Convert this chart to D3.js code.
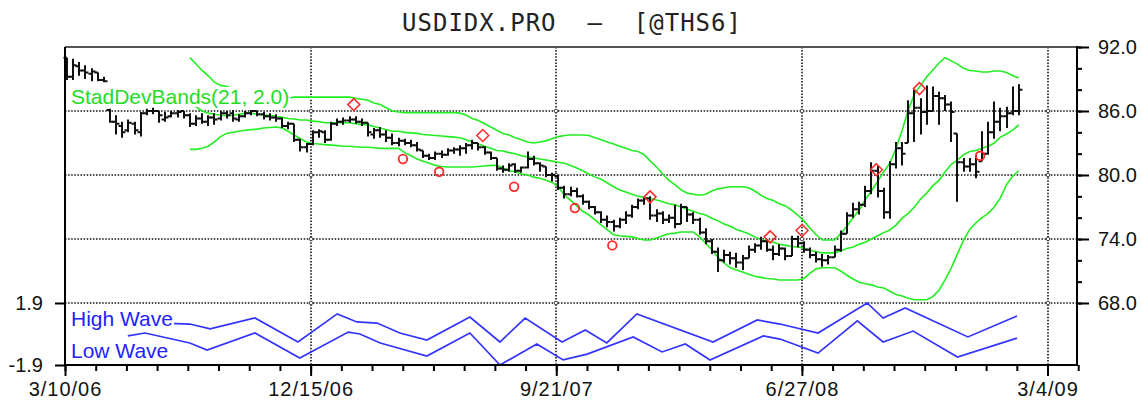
<!DOCTYPE html>
<html><head><meta charset="utf-8">
<script src="https://cdn.jsdelivr.net/npm/d3@7"></script>
<style>body{margin:0;background:#fff}svg{display:block}</style>
</head><body>
<svg id="c" width="1141" height="400"></svg>
<script>
// ---------------- data ----------------
const titleText = "USDIDX.PRO  \u2013  [@THS6]";
const dateLabels = ["3/10/06", "12/15/06", "9/21/07", "6/27/08", "3/4/09"];
const dateLabelIdx = [0, 40, 80, 120, 160];
const priceTicks = [92, 86, 80, 74, 68];
const waveTicks = [1.9, -1.9];
const bandLabel = "StadDevBands(21, 2.0)";
const highWaveLabel = "High Wave";
const lowWaveLabel = "Low Wave";

const open = [91.0,89.2,90.2,89.8,89.5,89.6,88.9,86.1,85.0,84.6,84.2,84.8,84.0,85.8,86.0,86.0,85.2,85.5,85.8,86.0,
85.6,84.8,85.3,85.0,85.4,85.3,85.8,85.8,85.2,85.5,85.8,86.0,85.7,85.5,85.4,85.3,84.6,84.8,83.3,82.6,
82.9,84.0,84.0,83.3,84.8,85.0,85.1,85.2,85.0,84.9,83.8,84.2,83.8,83.5,83.0,83.2,83.0,82.8,82.3,81.8,
81.6,82.0,81.9,82.3,82.4,82.5,82.8,83.0,82.6,82.1,81.6,80.6,80.5,81.0,80.4,80.7,81.5,81.1,80.8,80.0,
79.9,78.8,78.2,78.5,78.0,77.5,77.0,76.5,75.8,75.6,75.2,75.8,76.2,77.0,77.6,77.8,76.2,76.4,75.8,76.0,
75.4,77.0,76.3,75.8,74.6,73.8,72.8,72.0,72.5,72.2,71.8,72.2,73.0,73.4,73.8,73.0,72.6,73.1,72.4,74.0,
73.6,73.0,72.5,72.1,72.0,72.3,73.0,74.5,76.2,76.8,77.2,78.5,80.4,78.5,76.5,81.0,82.5,83.0,85.8,86.3,
85.9,86.0,87.4,87.2,86.6,83.9,81.2,80.8,81.0,81.3,82.0,84.0,85.0,85.5,85.8,86.0];
const high = [91.0,90.9,90.6,90.3,90.0,89.6,89.2,86.2,85.6,85.0,85.2,85.0,85.9,86.2,86.3,86.0,85.9,86.0,86.1,86.0,
85.8,85.6,85.8,85.6,85.8,86.0,86.0,86.1,85.7,86.0,86.1,86.0,85.9,85.8,85.7,85.4,85.0,84.8,83.4,83.0,
84.2,84.3,84.2,85.0,85.3,85.4,85.5,85.5,85.3,84.9,84.4,84.5,84.2,83.9,83.5,83.4,83.3,83.1,82.3,82.0,
82.2,82.3,82.5,82.6,82.8,83.0,83.3,83.0,82.7,82.2,81.6,80.9,81.1,81.1,80.8,82.2,81.8,81.2,80.8,80.2,
80.0,79.0,78.9,78.8,78.2,77.6,77.1,76.6,76.2,75.8,76.0,76.6,77.2,77.8,77.9,78.0,76.8,76.6,76.3,77.2,
77.3,77.0,76.5,76.0,75.0,74.0,73.2,73.0,72.8,72.7,72.5,73.4,73.6,74.2,74.0,73.4,73.5,73.2,74.3,74.3,
73.8,73.2,72.8,72.6,72.5,73.4,74.8,76.5,77.4,77.5,79.0,81.2,80.9,78.8,81.3,83.1,83.1,87.0,88.0,87.2,
88.4,88.3,87.8,87.5,86.9,83.9,81.6,81.6,81.9,84.1,85.0,86.9,86.3,86.4,88.3,88.5];
const low = [88.9,88.9,89.3,89.0,88.8,88.8,88.7,84.9,83.8,83.5,84.0,83.8,83.6,85.6,85.7,84.9,85.0,85.4,85.4,85.3,
84.5,84.6,84.8,84.6,84.7,85.1,85.3,85.0,85.0,85.4,85.6,85.5,85.2,85.1,85.0,84.4,84.3,83.1,82.2,82.1,
82.8,83.5,83.0,83.2,84.6,84.7,84.9,84.8,84.6,83.6,83.4,83.5,83.1,82.8,82.7,82.8,82.6,82.2,81.6,81.4,
81.4,81.6,81.8,82.0,81.8,82.0,82.4,82.3,81.9,81.4,80.4,80.2,80.3,80.2,80.2,80.6,80.9,80.3,79.8,79.4,
78.6,77.8,78.0,77.9,77.2,76.8,76.3,75.5,75.1,74.7,75.0,75.4,76.0,76.8,77.2,75.8,75.6,75.4,75.5,75.0,
75.4,75.6,75.4,74.4,73.5,72.6,70.9,71.8,71.6,71.3,71.1,72.2,72.7,73.0,72.8,72.0,72.4,72.0,72.4,73.2,
72.7,72.2,71.8,71.4,71.6,72.3,72.8,74.5,76.0,76.3,77.0,78.2,77.9,75.9,75.9,80.6,80.9,83.0,83.1,83.8,
84.7,86.0,84.7,86.0,83.1,77.5,80.3,80.3,79.7,81.3,81.9,83.4,84.1,84.4,85.6,85.6];
const close = [89.2,90.3,89.8,89.6,89.7,88.9,88.8,85.0,84.8,84.0,84.9,84.2,85.8,86.0,86.0,85.6,85.4,85.8,85.9,85.6,
84.8,85.3,85.0,85.4,85.2,85.8,85.6,85.3,85.5,85.8,86.0,85.7,85.5,85.4,85.3,84.6,84.8,83.3,82.6,82.9,
84.0,84.1,83.3,84.8,85.0,85.1,85.2,85.0,84.9,84.0,84.2,83.8,83.5,83.0,83.2,83.0,82.8,82.4,81.8,81.6,
82.0,81.9,82.3,82.4,82.5,82.8,83.0,82.6,82.1,81.6,80.6,80.5,80.9,80.4,80.7,81.5,81.1,80.9,80.0,80.0,
78.8,78.2,78.5,78.0,77.5,77.0,76.5,75.8,75.6,75.2,75.8,76.2,77.0,77.6,77.8,76.2,76.4,75.8,76.0,75.4,
77.0,76.3,75.8,74.6,73.8,72.8,72.0,72.5,72.2,71.8,72.2,73.0,73.4,73.8,73.0,72.6,73.1,72.4,74.0,73.6,
73.0,72.5,72.1,72.0,72.3,73.0,74.5,76.2,76.8,77.2,78.5,80.4,78.5,76.5,81.0,82.5,82.0,85.8,86.3,85.9,
86.0,87.4,87.2,86.6,85.9,81.2,80.8,81.0,80.3,82.0,84.0,85.0,85.5,85.8,86.0,88.0];

// StdDev bands, first value belongs to bar 20
const bandStart = 20;
const bandUpper = [91.0,90.4,89.8,89.3,88.7,88.4,88.3,88.1,88.0,87.9,
87.8,87.7,87.6,87.5,87.4,87.3,87.2,87.3,87.3,87.3,
87.3,87.3,87.3,87.3,87.3,87.3,87.3,87.2,87.1,87.0,
86.75,86.6,86.3,86.0,85.9,85.85,85.85,85.85,85.85,85.85,
85.85,85.85,85.85,85.85,85.8,85.6,85.3,85.1,84.8,84.5,
84.2,83.9,83.75,83.5,83.3,83.1,83.0,83.1,83.2,83.4,
83.6,83.7,83.75,83.75,83.75,83.7,83.5,83.3,83.1,82.9,
82.7,82.5,82.3,82.2,81.9,81.3,80.75,80.1,79.5,79.1,
78.6,78.3,78.2,78.1,78.2,78.5,78.7,78.8,78.9,78.9,
78.9,78.8,78.5,78.1,77.8,77.6,77.3,77.1,76.7,76.25,
75.7,75.0,74.4,73.9,73.9,73.9,74.5,75.2,76.0,76.7,
77.7,78.5,79.4,80.3,81.1,82.5,84.2,86.1,87.6,88.4,
89.2,89.85,90.5,91.0,90.7,90.4,90.0,89.8,89.75,89.65,
89.65,89.75,89.75,89.6,89.3,89.1];
const bandMiddle = [86.65,86.4,86.0,85.8,85.7,85.6,85.55,85.6,85.7,85.8,
85.8,85.7,85.6,85.6,85.5,85.4,85.3,85.25,85.15,85.15,
85.05,85.0,84.9,84.9,84.9,84.9,84.9,84.8,84.75,84.7,
84.55,84.4,84.25,84.1,84.1,84.0,83.95,83.9,83.8,83.75,
83.7,83.65,83.6,83.55,83.5,83.3,83.1,82.9,82.7,82.5,
82.3,82.25,82.1,82.0,81.8,81.7,81.6,81.5,81.4,81.3,
81.2,81.1,80.9,80.65,80.4,80.1,79.8,79.6,79.25,78.9,
78.6,78.4,78.2,78.0,77.9,77.8,77.65,77.5,77.3,77.2,
77.0,76.8,76.6,76.4,76.25,75.95,75.7,75.4,75.2,74.9,
74.7,74.5,74.2,73.95,73.8,73.7,73.5,73.4,73.3,73.25,
73.15,72.95,72.8,72.7,72.7,72.7,72.9,73.1,73.25,73.5,
73.7,74.0,74.3,74.6,74.85,75.3,75.95,76.4,77.0,77.75,
78.3,79.0,79.5,80.3,81.0,81.4,81.9,82.2,82.3,82.5,
82.7,83.0,83.55,83.85,84.2,84.7];
const bandLower = [82.4,82.4,82.5,82.7,83.1,83.6,83.9,84.0,84.1,84.2,
84.25,84.3,84.4,84.45,84.5,84.4,84.1,83.75,83.4,83.1,
82.95,82.9,82.85,82.8,82.75,82.7,82.7,82.65,82.6,82.6,
82.55,82.5,82.5,82.5,82.5,82.1,81.8,81.5,81.3,81.1,
80.9,80.8,80.75,80.75,80.75,80.75,80.75,80.8,80.85,80.9,
80.9,80.65,80.4,80.3,80.1,80.0,79.8,79.7,79.5,79.3,
78.9,78.1,77.65,77.1,76.6,76.25,75.8,75.3,74.85,74.4,
74.3,74.25,74.2,74.05,73.9,73.9,74.1,74.3,74.5,74.55,
74.65,74.65,74.65,74.2,73.6,73.0,72.3,71.75,71.3,71.1,
70.9,70.7,70.5,70.4,70.3,70.25,70.15,70.15,70.15,70.15,
70.3,70.8,71.2,71.3,71.3,71.3,71.0,70.6,70.25,69.95,
69.8,69.7,69.5,69.4,69.1,68.8,68.65,68.45,68.3,68.3,
68.3,68.6,69.2,70.2,71.3,72.6,73.9,74.9,75.5,76.0,
76.4,77.0,77.85,79.1,79.9,80.4];

// signal markers (bar position, price)
const diamondIdx = [46.7, 67.7, 94.95, 114.5, 119.7, 131.8, 138.8];
const diamondVal = [86.6, 83.7, 77.95, 74.2, 74.8, 80.5, 88.1];
const circleIdx = [54.7, 60.6, 72.8, 82.7, 88.8, 148.7];
const circleVal = [81.5, 80.3, 78.9, 76.9, 73.4, 81.8];

// wave pivots (bar position, value)
const highWaveIdx = [10, 20, 23.3, 30.6, 37.6, 44, 47.2, 50.5, 54.2, 58.6, 65.6, 70.5, 74.6, 80.6, 84.4, 87.9, 92.8, 105.2, 112.4, 116.1, 122.3, 130.3, 132.9, 136.5, 146.7, 154.7];
const highWaveVal = [0.74, 0.61, 0.31, 0.98, -0.49, 1.23, 0.74, 0.67, 0.06, -0.37, 1.04, -0.49, 0.98, -0.49, 0.25, -0.55, 1.23, -0.49, 0.86, 0.61, 0.06, 1.9, 0.98, 1.59, -0.18, 1.10];
const lowWaveIdx = [9.9, 12.7, 20, 22.8, 30.6, 37.9, 45.8, 47.7, 51, 58.6, 65.6, 70.5, 76.5, 80.8, 84.7, 92.2, 96.9, 100.7, 104.7, 113.4, 116.1, 122.3, 128.7, 132.9, 137.8, 145, 154.7];
const lowWaveVal = [-0.12, 0.06, -0.55, -0.98, 0.06, -1.47, 0.12, 0.0, -0.55, -1.35, 0.06, -1.9, -0.61, -1.59, -1.23, -0.18, -1.10, -0.61, -1.59, -0.12, -0.31, -1.17, 0.80, -0.49, 0.18, -1.41, -0.25];

// ---------------- layout ----------------
const L = 65, R = 1077, T = 47, MB = 303, B = 365;
const svg = d3.select("#c");
const x = d3.scaleLinear().domain([0, 164.8]).range([L, R]);
const bx = i => x(i + 0.33);
const yP = d3.scaleLinear().domain([68, 92]).range([MB, T]);
const yW = d3.scaleLinear().domain([-1.9, 1.9]).range([B, MB]);
const sans = "'Liberation Sans', Arial, sans-serif";

// title
svg.append("text").attr("x", 572).attr("y", 31).attr("text-anchor", "middle")
  .attr("font-family", "'DejaVu Sans Mono', monospace").attr("font-size", 24)
  .attr("letter-spacing", 1).attr("fill", "#222").style("white-space", "pre")
  .text(titleText);

// grid
const grid = svg.append("g").attr("stroke", "#111").attr("stroke-width", 1.6).attr("stroke-dasharray", "1.5,1.6");
const gridX = dateLabelIdx.slice(1);
const gridY = [86, 80, 74, 68];
grid.selectAll("line.v").data(gridX).join("line")
  .attr("x1", d => Math.round(x(d))).attr("x2", d => Math.round(x(d)))
  .attr("y1", T).attr("y2", B);
grid.selectAll("line.h").data(gridY).join("line")
  .attr("x1", L).attr("x2", R)
  .attr("y1", d => Math.round(yP(d))).attr("y2", d => Math.round(yP(d)));
const inter = [];
gridX.forEach(a => gridY.forEach(b => inter.push([a, b])));
svg.append("g").selectAll("circle").data(inter).join("circle")
  .attr("cx", d => Math.round(x(d[0]))).attr("cy", d => Math.round(yP(d[1])))
  .attr("r", 1.8).attr("fill", "#fff").attr("stroke", "#333").attr("stroke-width", 0.9);

// bands
const bandLine = d3.line().x((d, i) => bx(i + bandStart)).y(d => yP(d));
[bandUpper, bandMiddle, bandLower].forEach(arr => {
  svg.append("path").datum(arr).attr("d", bandLine)
    .attr("fill", "none").attr("stroke", "#22ee22").attr("stroke-width", 1.6);
});

// OHLC bars
const bars = d3.range(open.length).map(i => ({i, o: open[i], h: high[i], l: low[i], c: close[i]}));
svg.append("g").attr("stroke", "#111").attr("stroke-width", 2).attr("fill", "none")
  .selectAll("path").data(bars).join("path")
  .attr("d", d => {
    const xc = Math.round(bx(d.i));
    return `M${xc},${yP(d.h)}V${yP(d.l)}M${xc - 3.5},${yP(d.o)}H${xc}M${xc},${yP(d.c)}H${xc + 3.5}`;
  });

// markers
svg.append("g").selectAll("path").data(diamondIdx.map((d, k) => [d, diamondVal[k]])).join("path")
  .attr("d", d => { const cx = bx(d[0]), cy = yP(d[1]), r = 6;
    return `M${cx},${cy - r}L${cx + r},${cy}L${cx},${cy + r}L${cx - r},${cy}Z`; })
  .attr("fill", "none").attr("stroke", "#ff2a2a").attr("stroke-width", 1.5);
svg.append("g").selectAll("circle").data(circleIdx.map((d, k) => [d, circleVal[k]])).join("circle")
  .attr("cx", d => bx(d[0])).attr("cy", d => yP(d[1])).attr("r", 4.3)
  .attr("fill", "none").attr("stroke", "#ff2a2a").attr("stroke-width", 1.8);

// waves
const waveLine = d3.line().x(d => bx(d[0])).y(d => yW(d[1]));
[[highWaveIdx, highWaveVal], [lowWaveIdx, lowWaveVal]].forEach(([ix, vs]) => {
  svg.append("path").datum(ix.map((d, k) => [d, vs[k]])).attr("d", waveLine)
    .attr("fill", "none").attr("stroke", "#3333ff").attr("stroke-width", 1.7);
});

// legend labels with white boxes
function label(txt, xx, yy, color) {
  const g = svg.append("g");
  const t = g.append("text").attr("x", xx).attr("y", yy).attr("font-family", sans)
    .attr("font-size", 21).attr("fill", color).text(txt);
  const bb = t.node().getBBox();
  g.insert("rect", "text").attr("x", bb.x - 1).attr("y", bb.y + 2).attr("width", bb.width + 2)
    .attr("height", bb.height - 3).attr("fill", "#fff");
}
label(bandLabel, 71, 104, "#22dd22");
label(highWaveLabel, 71, 326, "#2222ff");
label(lowWaveLabel, 71, 358, "#2222ff");

// frame
svg.append("line").attr("x1", L).attr("x2", R).attr("y1", T).attr("y2", T).attr("stroke", "#555").attr("stroke-width", 2);
svg.append("line").attr("x1", L).attr("x2", L).attr("y1", T).attr("y2", B + 1).attr("stroke", "#000").attr("stroke-width", 2);
svg.append("line").attr("x1", R).attr("x2", R).attr("y1", T - 1).attr("y2", B + 1).attr("stroke", "#000").attr("stroke-width", 2);
svg.append("line").attr("x1", L).attr("x2", R).attr("y1", B).attr("y2", B).attr("stroke", "#000").attr("stroke-width", 2);

// axes
function styleAxis(g) {
  g.select(".domain").remove();
  g.selectAll(".tick line").attr("stroke", "#000").attr("stroke-width", 2);
  g.selectAll(".tick text").attr("font-family", sans).attr("fill", "#111");
}
svg.append("g").attr("transform", `translate(0,${B})`)
  .call(d3.axisBottom(x).tickValues(d3.range(0, 166, 5)).tickSize(6).tickFormat(""))
  .call(styleAxis);
svg.append("g").attr("transform", `translate(0,${B})`)
  .call(d3.axisBottom(x).tickValues(dateLabelIdx).tickSize(11).tickPadding(6).tickFormat((d, i) => dateLabels[i]))
  .call(styleAxis)
  .call(g => g.selectAll(".tick text").attr("font-size", 20).attr("letter-spacing", 1));
svg.append("g").attr("transform", `translate(${R},0)`)
  .call(d3.axisRight(yP).tickValues(d3.range(68, 93, 2)).tickSize(5).tickFormat(""))
  .call(styleAxis);
svg.append("g").attr("transform", `translate(${R},0)`)
  .call(d3.axisRight(yP).tickValues(priceTicks).tickSize(12).tickPadding(9).tickFormat(d => d.toFixed(1)))
  .call(styleAxis)
  .call(g => g.selectAll(".tick text").attr("font-size", 20));
svg.append("g").attr("transform", `translate(${L},0)`)
  .call(d3.axisLeft(yW).tickValues(waveTicks).tickSize(10).tickPadding(12).tickFormat(d => d.toFixed(1)))
  .call(styleAxis)
  .call(g => g.selectAll(".tick text").attr("font-size", 20));
</script>
</body></html>
